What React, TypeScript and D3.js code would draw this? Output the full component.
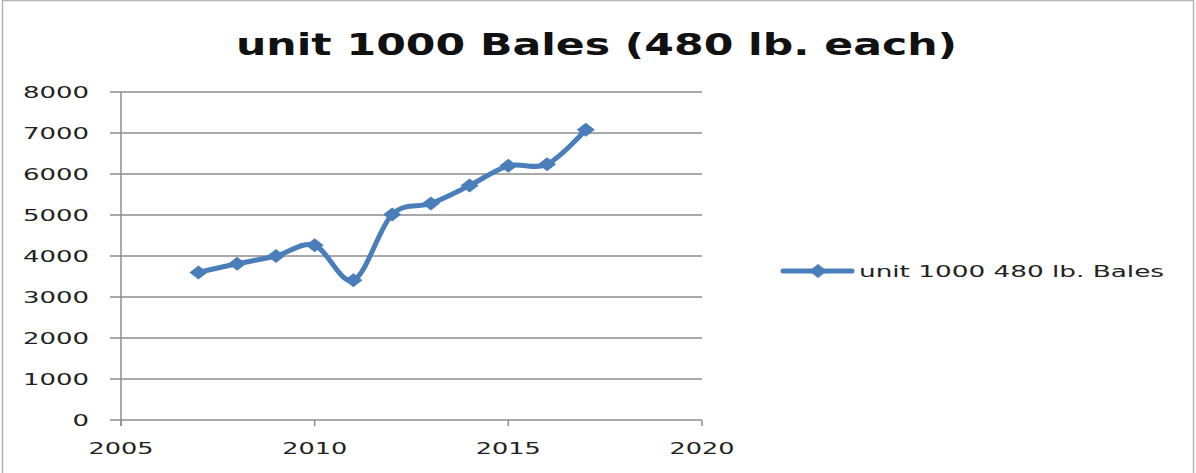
import React from "react";
import * as d3 from "d3";

const years = [2007, 2008, 2009, 2010, 2011, 2012, 2013, 2014, 2015, 2016, 2017];
const bales = [3600, 3810, 4000, 4260, 3410, 5010, 5280, 5720, 6200, 6240, 7080];
const yTicks = [0, 1000, 2000, 3000, 4000, 5000, 6000, 7000, 8000];
const xTicks = [2005, 2010, 2015, 2020];
const titleText = "unit 1000 Bales (480 lb. each)";
const seriesName = "unit 1000 480 lb. Bales";

const W = 1196;
const H = 473;
const BLUE = "#4a7ebb";
const GRID = "#8c8c8c";
const FONT = "'DejaVu Sans', Verdana, sans-serif";

export default function App() {
  const x = d3.scaleLinear().domain([2005, 2020]).range([121, 702]);
  const y = d3.scaleLinear().domain([0, 8000]).range([420, 92]);

  const pts: [number, number][] = years.map((yr, i) => [x(yr), y(bales[i])]);
  const line = d3.line().curve(d3.curveCardinal.tension(0))(pts) || "";

  const diamond = (cx: number, cy: number, hw = 9, hh = 7) =>
    `M${cx - hw},${cy} L${cx},${cy - hh} L${cx + hw},${cy} L${cx},${cy + hh} Z`;

  const legY = 271;

  return (
    <svg
      width={W}
      height={H}
      style={{ position: "absolute", left: 0, top: 0, background: "#fff" }}
      fontFamily={FONT}
    >
      <rect x={0} y={0} width={W} height={H} fill="#fff" />
      {/* outer chart frame */}
      <rect x={2.5} y={0.5} width={1191} height={H + 5} fill="none" stroke="#b4b4b4" strokeWidth={1.5} />

      {/* title */}
      <text
        x={236}
        y={55}
        fontSize={31}
        fontWeight="bold"
        fill="#111"
        textLength={721}
        lengthAdjust="spacingAndGlyphs"
      >
        {titleText}
      </text>

      {/* horizontal gridlines and y ticks */}
      {yTicks.map((t) => (
        <g key={`y${t}`}>
          <line x1={110} x2={702} y1={y(t)} y2={y(t)} stroke={GRID} strokeWidth={1.5} />
          <text
            x={89}
            y={y(t)}
            dy="0.36em"
            fontSize={16.5}
            fill="#222"
            textAnchor="end"
            textLength={String(t).length * 16.5}
            lengthAdjust="spacingAndGlyphs"
          >
            {t}
          </text>
        </g>
      ))}

      {/* axes */}
      <line x1={121} x2={121} y1={y(8000)} y2={y(0) + 6} stroke={GRID} strokeWidth={1.5} />
      {xTicks.map((t) => (
        <g key={`x${t}`}>
          <line x1={x(t)} x2={x(t)} y1={y(0)} y2={y(0) + 6} stroke={GRID} strokeWidth={1.5} />
          <text
            x={x(t)}
            y={448}
            dy="0.36em"
            fontSize={16.5}
            fill="#222"
            textAnchor="middle"
            textLength={65}
            lengthAdjust="spacingAndGlyphs"
          >
            {t}
          </text>
        </g>
      ))}

      {/* series */}
      <path d={line} fill="none" stroke={BLUE} strokeWidth={5} strokeLinejoin="round" strokeLinecap="round" />
      {pts.map(([px, py], i) => (
        <path key={`m${i}`} d={diamond(px, py)} fill={BLUE} />
      ))}

      {/* legend */}
      <line x1={783} x2={852} y1={legY} y2={legY} stroke={BLUE} strokeWidth={5} strokeLinecap="round" />
      <path d={diamond(818, legY)} fill={BLUE} />
      <text
        x={859}
        y={legY}
        dy="0.36em"
        fontSize={16}
        fill="#222"
        textLength={305}
        lengthAdjust="spacingAndGlyphs"
      >
        {seriesName}
      </text>
    </svg>
  );
}
